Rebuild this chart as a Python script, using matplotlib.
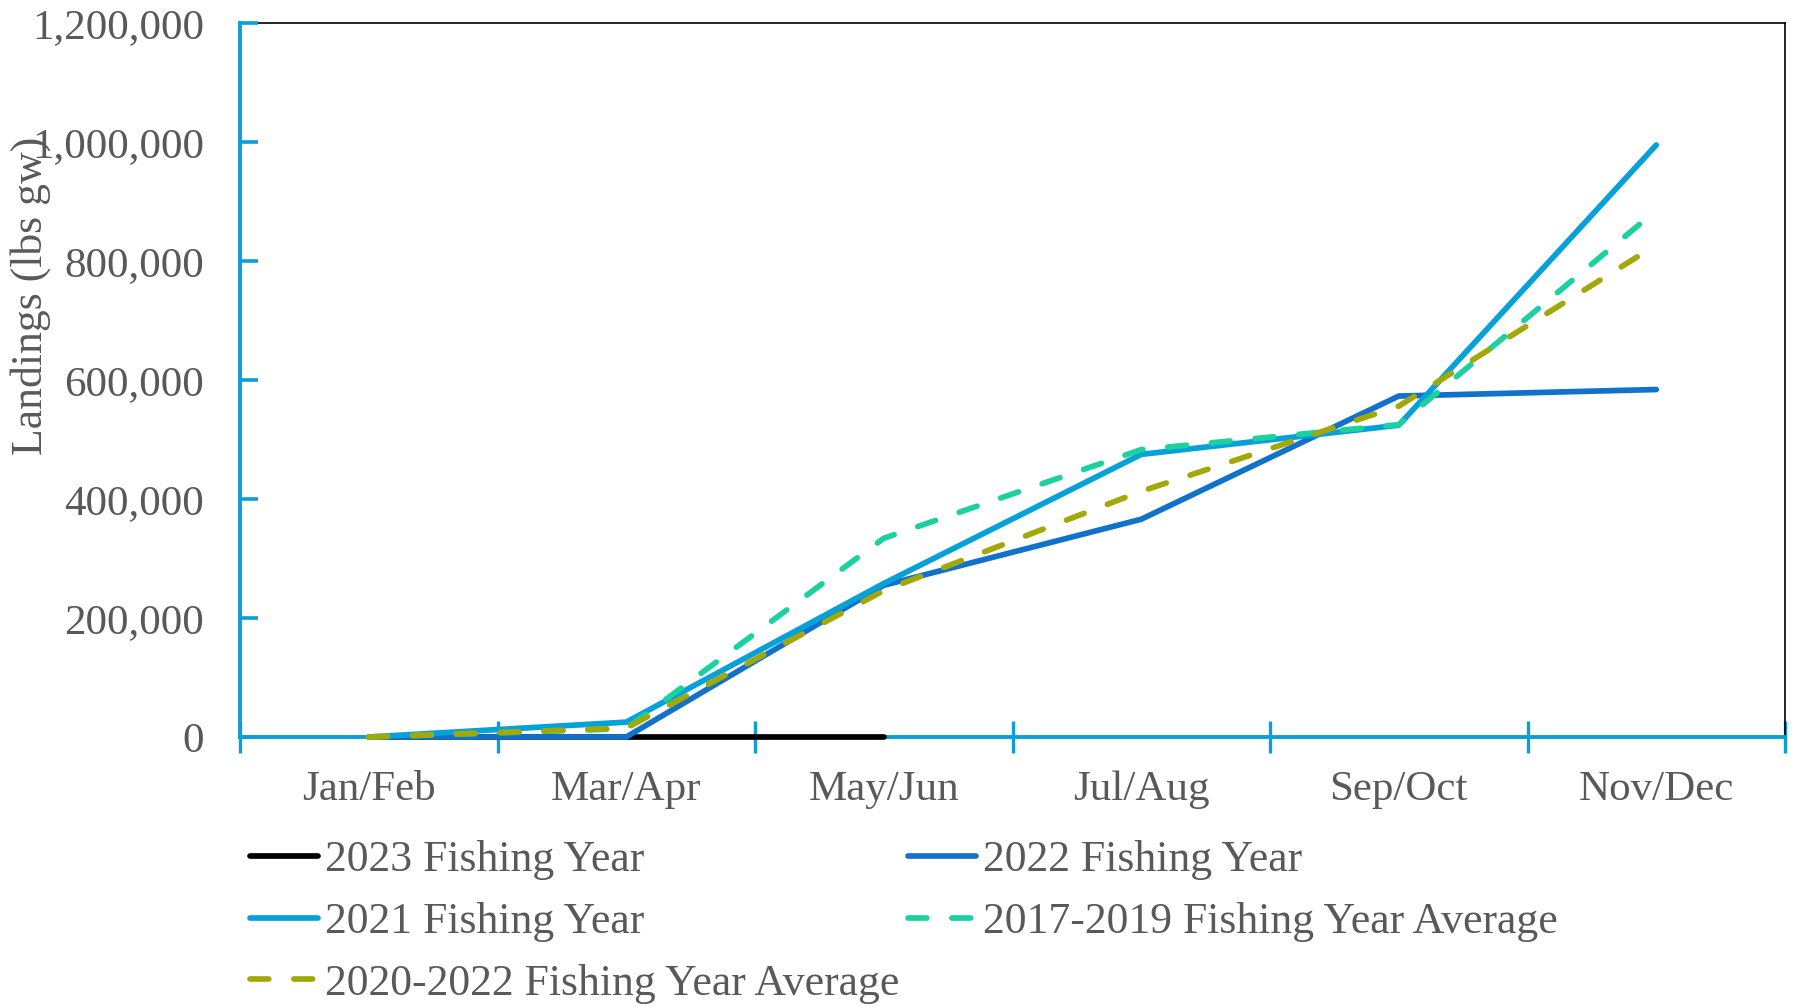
import matplotlib
matplotlib.use("Agg")
import matplotlib.pyplot as plt
from matplotlib.ticker import FuncFormatter, FixedLocator

plt.rcParams['font.family'] = ['Liberation Serif', 'DejaVu Serif']

categories = ["Jan/Feb", "Mar/Apr", "May/Jun", "Jul/Aug", "Sep/Oct", "Nov/Dec"]
fy2023 = [0, 0, 0]
fy2022 = [0, 0, 255000, 366000, 573000, 584000]
fy2021 = [0, 25000, 258000, 475000, 524000, 995000]
avg_2017_2019 = [0, 14000, 334000, 483000, 525000, 885000]
avg_2020_2022 = [0, 15000, 246000, 413000, 556000, 827000]
yticks = [0, 200000, 400000, 600000, 800000, 1000000, 1200000]

GRAY = "#595959"
AXBLUE = "#0A9FD8"
FS = 31
LFS = 31.5

fig = plt.figure(figsize=(17.95, 10.08), dpi=100)
ax = fig.add_axes([240/1795, 1-737/1008, (1785-240)/1795, (737-23)/1008])

x = list(range(len(categories)))
lw = 4.1
common = dict(lw=lw, solid_capstyle="round", dash_capstyle="round", zorder=3, clip_on=False)
l23, = ax.plot(x[:len(fy2023)], fy2023, color="black", label="2023 Fishing Year", **common)
l22, = ax.plot(x, fy2022, color="#1272C9", label="2022 Fishing Year", **common)
l21, = ax.plot(x, fy2021, color="#07A1DA", label="2021 Fishing Year", **common)
la, = ax.plot(x, avg_2017_2019, color="#1BD1A0", dashes=(3.3, 4.4),
              label="2017-2019 Fishing Year Average", **common)
lb, = ax.plot(x, avg_2020_2022, color="#A3A80A", dashes=(3.3, 4.4),
              label="2020-2022 Fishing Year Average", **common)

ax.set_xlim(-0.5, len(categories) - 0.5)
ax.set_ylim(0, 1200000)

ax.set_xticks(x)
ax.set_xticklabels(categories)
ax.xaxis.set_minor_locator(FixedLocator([i - 0.5 for i in range(len(categories) + 1)]))
ax.tick_params(axis="x", which="major", length=0, pad=24, labelsize=FS, labelcolor=GRAY)
ax.tick_params(axis="x", which="minor", direction="inout", length=23, width=2.4, color=AXBLUE)

ax.set_yticks(yticks)
ax.yaxis.set_major_formatter(FuncFormatter(lambda v, p: f"{int(v):,}"))
ax.tick_params(axis="y", which="major", direction="in", length=13, width=2.6, color=AXBLUE,
               pad=26, labelsize=FS, labelcolor=GRAY)

for s in ["left", "bottom"]:
    ax.spines[s].set_color(AXBLUE)
    ax.spines[s].set_linewidth(2.8)
for s in ["top", "right"]:
    ax.spines[s].set_color("black")
    ax.spines[s].set_linewidth(1.2)
ax.spines["top"].set_zorder(0.5)

fig.text(31/1795, 1-296/1008, "Landings (lbs gw)", rotation=90, ha="center", va="center",
         fontsize=LFS, color=GRAY)

handles = [l23, l21, lb, l22, la]
leg = fig.legend(handles=handles, labels=[h.get_label() for h in handles], ncol=2,
                 loc="upper left", bbox_to_anchor=(250/1795, 1-840/1008),
                 frameon=False, fontsize=LFS, handlelength=1.55, handletextpad=0.16,
                 columnspacing=0.2, labelspacing=0.5, borderpad=0, borderaxespad=0)
for t in leg.get_texts():
    t.set_color(GRAY)

fig.savefig("out.png", dpi=100)
